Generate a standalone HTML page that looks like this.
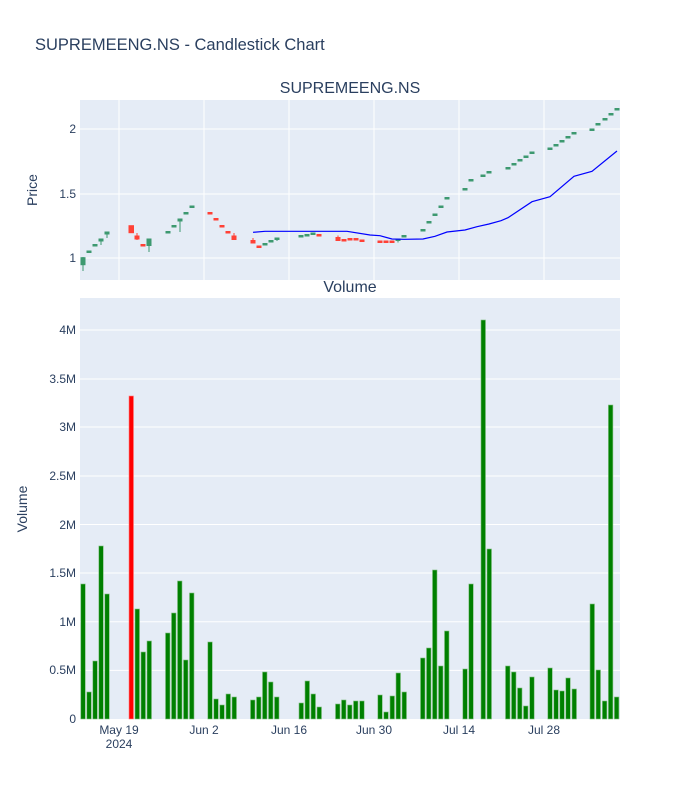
<!DOCTYPE html>
<html><head><meta charset="utf-8"><style>body{margin:0;background:#fff}svg{display:block;font-family:"Liberation Sans",sans-serif}</style></head><body>
<svg width="700" height="800" xmlns="http://www.w3.org/2000/svg">
<rect width="700" height="800" fill="#fff"/>
<rect x="80" y="100" width="540" height="180" fill="#e5ecf6"/>
<rect x="80" y="298" width="540" height="421" fill="#e5ecf6"/>
<g stroke="#fff" stroke-width="1">
<line x1="80" x2="620" y1="129" y2="129"/><line x1="80" x2="620" y1="194" y2="194"/><line x1="80" x2="620" y1="258" y2="258"/>
<line x1="119" x2="119" y1="100" y2="280"/><line x1="204" x2="204" y1="100" y2="280"/><line x1="289" x2="289" y1="100" y2="280"/><line x1="374" x2="374" y1="100" y2="280"/><line x1="459" x2="459" y1="100" y2="280"/><line x1="544" x2="544" y1="100" y2="280"/>
<line x1="80" x2="620" y1="670.4" y2="670.4"/><line x1="80" x2="620" y1="621.7" y2="621.7"/><line x1="80" x2="620" y1="573" y2="573"/><line x1="80" x2="620" y1="524.5" y2="524.5"/><line x1="80" x2="620" y1="476" y2="476"/><line x1="80" x2="620" y1="427" y2="427"/><line x1="80" x2="620" y1="379" y2="379"/><line x1="80" x2="620" y1="330" y2="330"/>
</g>
<text x="35" y="50" font-size="16.5" fill="#2a3f5f">SUPREMEENG.NS - Candlestick Chart</text>
<text x="350" y="93" font-size="16" fill="#2a3f5f" text-anchor="middle">SUPREMEENG.NS</text>
<text x="350" y="292" font-size="16" fill="#2a3f5f" text-anchor="middle">Volume</text>
<g font-size="12" fill="#2a3f5f" text-anchor="end">
<text x="76" y="133">2</text><text x="76" y="198">1.5</text><text x="76" y="262">1</text>
<text x="76" y="723">0</text><text x="76" y="674">0.5M</text><text x="76" y="626">1M</text><text x="76" y="577">1.5M</text><text x="76" y="529">2M</text><text x="76" y="480">2.5M</text><text x="76" y="431">3M</text><text x="76" y="383">3.5M</text><text x="76" y="334">4M</text>
</g>
<g font-size="12" fill="#2a3f5f" text-anchor="middle">
<text x="119" y="734">May 19</text><text x="119" y="748">2024</text><text x="204" y="734">Jun 2</text><text x="289" y="734">Jun 16</text><text x="374" y="734">Jun 30</text><text x="459" y="734">Jul 14</text><text x="544" y="734">Jul 28</text>
</g>
<text transform="translate(37,190) rotate(-90)" font-size="14" fill="#2a3f5f" text-anchor="middle">Price</text>
<text transform="translate(27,509) rotate(-90)" font-size="14" fill="#2a3f5f" text-anchor="middle">Volume</text>
<g fill="#3D9970" stroke="#3D9970" stroke-width="1">
<line x1="83" x2="83" y1="257" y2="271"/><rect x="81" y="257.7" width="4" height="7"/>
<rect x="87" y="251" width="4" height="1.5"/><rect x="93" y="244.5" width="4" height="1.5"/>
<line x1="101" x2="101" y1="239" y2="245"/><rect x="99" y="239" width="4" height="2"/>
<line x1="107" x2="107" y1="232" y2="238"/><rect x="105" y="232" width="4" height="2"/>
<line x1="149" x2="149" y1="239" y2="252"/><rect x="147" y="239" width="4" height="6.5"/>
<rect x="166" y="231.5" width="4" height="1.5"/><rect x="172" y="225.5" width="4" height="1.5"/>
<line x1="180" x2="180" y1="219" y2="232"/><rect x="178" y="219" width="4" height="2"/>
<rect x="184" y="212.5" width="4" height="1.5"/><rect x="190" y="206" width="4" height="1.5"/>
<rect x="263" y="243.5" width="4" height="1.5"/><rect x="269" y="240.5" width="4" height="1.5"/>
<line x1="277" x2="277" y1="238" y2="241"/><rect x="275" y="238" width="4" height="1.5"/>
<rect x="299" y="235.5" width="4" height="1.5"/><rect x="305" y="234.5" width="4" height="1.5"/><rect x="311" y="233" width="4" height="1.5"/>
<line x1="398" x2="398" y1="239" y2="242.5"/><rect x="396" y="239" width="4" height="1.5"/>
<rect x="402" y="235.5" width="4" height="1.5"/><rect x="421" y="229.5" width="4" height="1.5"/><rect x="427" y="221.5" width="4" height="1.5"/><rect x="433" y="214" width="4" height="1.5"/><rect x="439" y="206" width="4" height="1.5"/><rect x="445" y="197.5" width="4" height="1.5"/>
<rect x="463" y="188.5" width="4" height="1.5"/><rect x="469" y="179.5" width="4" height="1.5"/><rect x="481" y="175" width="4" height="1.5"/><rect x="487" y="171.5" width="4" height="1.5"/>
<rect x="506" y="167.5" width="4" height="1.5"/><rect x="512" y="163.5" width="4" height="1.5"/><rect x="518" y="159.5" width="4" height="1.5"/><rect x="524" y="156" width="4" height="1.5"/><rect x="530" y="152" width="4" height="1.5"/>
<rect x="548" y="148" width="4" height="1.5"/><rect x="554" y="144.5" width="4" height="1.5"/><rect x="560" y="140.5" width="4" height="1.5"/><rect x="566" y="136.5" width="4" height="1.5"/><rect x="572" y="132.5" width="4" height="1.5"/>
<rect x="590" y="129" width="4" height="1.5"/><rect x="596" y="123.5" width="4" height="1.5"/><rect x="603" y="118.5" width="4" height="1.5"/><rect x="609" y="113.5" width="4" height="1.5"/><rect x="615" y="108.5" width="4" height="1.5"/>
</g>
<g fill="#FF4136" stroke="#FF4136" stroke-width="1">
<rect x="129" y="225.7" width="4.5" height="7"/>
<line x1="137" x2="137" y1="233" y2="240"/><rect x="135" y="236" width="4" height="3"/>
<rect x="141" y="244.5" width="4" height="1.5"/>
<rect x="208" y="212.5" width="4" height="1.5"/><rect x="214" y="218.5" width="4" height="1.5"/><rect x="220" y="225.5" width="4" height="1.5"/><rect x="226" y="231.5" width="4" height="1.5"/>
<line x1="234" x2="234" y1="233" y2="240"/><rect x="232" y="236" width="4" height="3.5"/>
<line x1="253" x2="253" y1="238" y2="243"/><rect x="251" y="240.5" width="4" height="2.5"/>
<rect x="257" y="246" width="4" height="1.5"/><rect x="317" y="234.5" width="4" height="1.5"/>
<line x1="338" x2="338" y1="235.5" y2="240.5"/><rect x="336" y="237.5" width="4" height="3"/>
<rect x="342" y="239.5" width="4" height="1.5"/><rect x="348" y="238.5" width="4" height="1.5"/><rect x="354" y="238.5" width="4" height="1.5"/><rect x="360" y="240" width="4" height="1.5"/>
<rect x="378" y="241" width="4" height="1.5"/><rect x="384" y="241" width="4" height="1.5"/><rect x="390" y="241" width="4" height="1.5"/>
</g>
<polyline fill="none" stroke="#0000ff" stroke-width="1.2" points="253,232.3 265,231.3 300,231.3 347,231.3 370,235 380,235.7 392,239 404,239.3 423,239 435,236.3 447,232 465,230 477,226.7 489,224 501,220.7 508,217.7 532,201.7 550,196.7 574,176.3 592,171.3 617,151"/>
<g fill="#008000" stroke="#7fbf7f" stroke-width="0.6">
<rect x="80.8" y="584" width="4.5" height="135"/><rect x="86.8" y="692" width="4.5" height="27"/><rect x="92.8" y="661" width="4.5" height="58"/><rect x="98.8" y="546" width="4.5" height="173"/><rect x="104.8" y="594" width="4.5" height="125"/>
<rect x="135" y="609" width="4.5" height="110"/><rect x="141" y="652" width="4.5" height="67"/><rect x="147" y="641" width="4.5" height="78"/>
<rect x="165.5" y="633" width="4.5" height="86"/><rect x="171.5" y="613" width="4.5" height="106"/><rect x="177.5" y="581" width="4.5" height="138"/><rect x="183.5" y="660" width="4.5" height="59"/><rect x="189.5" y="593" width="4.5" height="126"/>
<rect x="207.8" y="642" width="4.5" height="77"/><rect x="213.8" y="699" width="4.5" height="20"/><rect x="219.8" y="705" width="4.5" height="14"/><rect x="226" y="694" width="4.5" height="25"/><rect x="232" y="697" width="4.5" height="22"/>
<rect x="250.5" y="700" width="4.5" height="19"/><rect x="256.5" y="697" width="4.5" height="22"/><rect x="262.5" y="672" width="4.5" height="47"/><rect x="268.5" y="682" width="4.5" height="37"/><rect x="274.5" y="697" width="4.5" height="22"/>
<rect x="299" y="703" width="4.5" height="16"/><rect x="305" y="681" width="4.5" height="38"/><rect x="311" y="694" width="4.5" height="25"/><rect x="317" y="707" width="4.5" height="12"/>
<rect x="335.5" y="704" width="4.5" height="15"/><rect x="341.5" y="700" width="4.5" height="19"/><rect x="347.5" y="705" width="4.5" height="14"/><rect x="353.5" y="701" width="4.5" height="18"/><rect x="359.7" y="701" width="4.5" height="18"/>
<rect x="377.8" y="695" width="4.5" height="24"/><rect x="383.8" y="712" width="4.5" height="7"/><rect x="390" y="696" width="4.5" height="23"/><rect x="396" y="673" width="4.5" height="46"/><rect x="402" y="692" width="4.5" height="27"/>
<rect x="420.5" y="658" width="4.5" height="61"/><rect x="426.5" y="648" width="4.5" height="71"/><rect x="432.5" y="570" width="4.5" height="149"/><rect x="438.5" y="666" width="4.5" height="53"/><rect x="444.5" y="631" width="4.5" height="88"/>
<rect x="462.8" y="669" width="4.5" height="50"/><rect x="468.8" y="584" width="4.5" height="135"/><rect x="481" y="320" width="4.5" height="399"/><rect x="487" y="549" width="4.5" height="170"/>
<rect x="505.5" y="666" width="4.5" height="53"/><rect x="511.5" y="672" width="4.5" height="47"/><rect x="517.5" y="688" width="4.5" height="31"/><rect x="523.5" y="706" width="4.5" height="13"/><rect x="529.7" y="677" width="4.5" height="42"/>
<rect x="547.8" y="668" width="4.5" height="51"/><rect x="553.8" y="690" width="4.5" height="29"/><rect x="559.8" y="691" width="4.5" height="28"/><rect x="565.8" y="678" width="4.5" height="41"/><rect x="572" y="689" width="4.5" height="30"/>
<rect x="590" y="604" width="4.5" height="115"/><rect x="596" y="670" width="4.5" height="49"/><rect x="602.4" y="701" width="4.5" height="18"/><rect x="608.4" y="405" width="4.5" height="314"/><rect x="614.4" y="697" width="4.5" height="22"/>
</g>
<rect x="129" y="396" width="4.5" height="323" fill="#ff0000" stroke="#ff7f7f" stroke-width="0.6"/>
</svg>
</body></html>
